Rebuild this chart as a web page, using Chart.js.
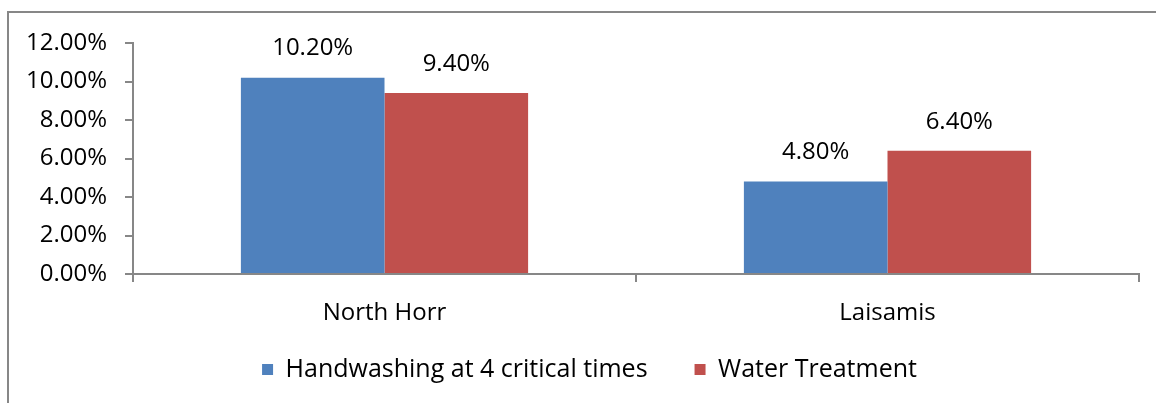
<!DOCTYPE html>
<html>
<head>
<meta charset="utf-8">
<title>Handwashing and Water Treatment</title>
<script src="https://cdn.jsdelivr.net/npm/chart.js"></script>
<style>
  html, body { margin: 0; padding: 0; background: #fff; overflow: hidden; }
  #frame {
    position: absolute; left: 7px; top: 11px;
    width: 1170px; height: 420px;
    border: 2px solid #878787; box-sizing: border-box;
  }
  #wrap { position: absolute; left: 0; top: 0; width: 1156px; height: 403px; }
</style>
</head>
<body>
<div id="frame"></div>
<div id="wrap"><canvas id="chart" width="1156" height="403"></canvas></div>
<script>
// Chart data
const categories = ['North Horr', 'Laisamis'];
const handwashing = [10.2, 4.8];
const waterTreatment = [9.4, 6.4];
const seriesNames = ['Handwashing at 4 critical times', 'Water Treatment'];
const yTicks = [0, 2, 4, 6, 8, 10, 12];

const FONT = "'Open Sans', 'Noto Sans', sans-serif";
const AXIS_GRAY = '#878787';

// Value labels above each bar
const barLabels = {
  id: 'barLabels',
  afterDatasetsDraw(chart) {
    const ctx = chart.ctx;
    ctx.save();
    ctx.font = '24px ' + FONT;
    ctx.fillStyle = '#000';
    ctx.textAlign = 'center';
    ctx.textBaseline = 'middle';
    chart.data.datasets.forEach((ds, i) => {
      chart.getDatasetMeta(i).data.forEach((bar, j) => {
        ctx.fillText(ds.data[j].toFixed(2) + '%', bar.x, bar.y - 29);
      });
    });
    ctx.restore();
  }
};

// Nudge the legend box so it sits like the original (a bit higher, a bit right)
const legendNudge = {
  id: 'legendNudge',
  afterLayout(chart) {
    const lg = chart.legend;
    if (!lg) return;
    lg.top -= 11;
    lg.bottom -= 11;
    lg.left += 20;
    lg.right += 20;
  }
};

function initChart() {
  const ctx = document.getElementById('chart').getContext('2d');

  new Chart(ctx, {
    type: 'bar',
    data: {
      labels: categories,
      datasets: [
        {
          label: seriesNames[0],
          data: handwashing,
          backgroundColor: '#4F81BD',
          barPercentage: 1,
          categoryPercentage: 0.571
        },
        {
          label: seriesNames[1],
          data: waterTreatment,
          backgroundColor: '#C0504D',
          barPercentage: 1,
          categoryPercentage: 0.571
        }
      ]
    },
    options: {
      responsive: false,
      animation: false,
      layout: {
        padding: { top: 43, left: 0, right: 17, bottom: 0 }
      },
      plugins: {
        legend: {
          position: 'bottom',
          labels: {
            boxWidth: 11,
            boxHeight: 11,
            padding: 47,
            color: '#000',
            font: { family: FONT, size: 25 }
          }
        },
        tooltip: { enabled: false }
      },
      scales: {
        x: {
          afterFit(scale) { scale.height = 47; },
          grid: {
            offset: true,
            drawOnChartArea: false,
            drawTicks: true,
            tickLength: 8,
            color: AXIS_GRAY,
            lineWidth: 2
          },
          border: { color: AXIS_GRAY, width: 2 },
          ticks: {
            color: '#000',
            padding: 17,
            font: { family: FONT, size: 24 }
          }
        },
        y: {
          min: yTicks[0],
          max: yTicks[yTicks.length - 1],
          afterFit(scale) { scale.width = 133; },
          afterBuildTicks(scale) {
            scale.ticks = yTicks.map(v => ({ value: v }));
          },
          grid: {
            drawOnChartArea: false,
            drawTicks: true,
            tickLength: 8,
            color: AXIS_GRAY,
            lineWidth: 2
          },
          border: { color: AXIS_GRAY, width: 2 },
          ticks: {
            color: '#000',
            padding: 18,
            font: { family: FONT, size: 24 },
            callback: v => v.toFixed(2) + '%'
          }
        }
      }
    },
    plugins: [barLabels, legendNudge]
  });
}

document.addEventListener('DOMContentLoaded', initChart);
</script>
</body>
</html>
